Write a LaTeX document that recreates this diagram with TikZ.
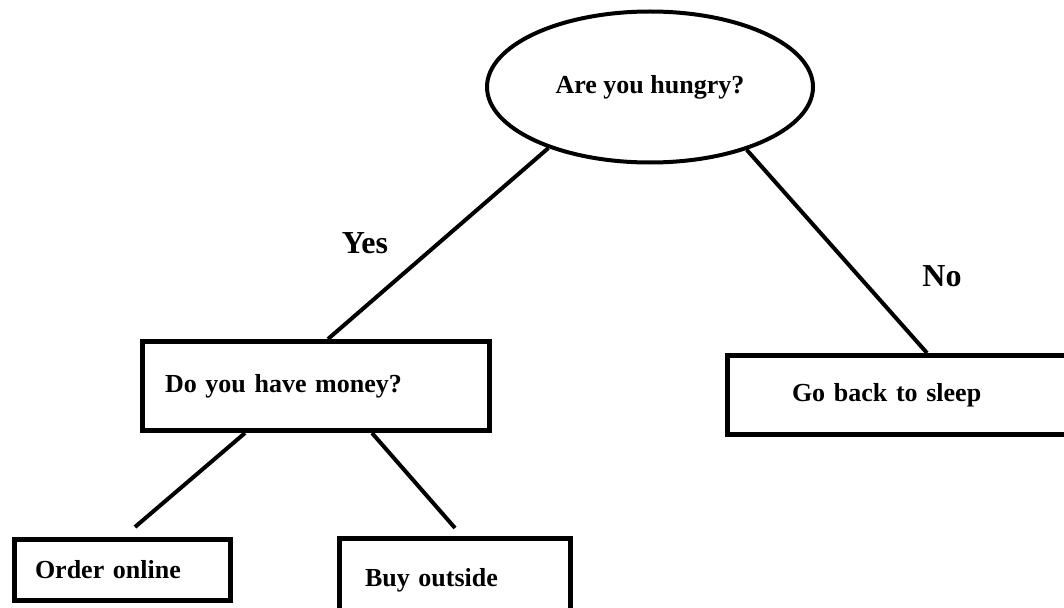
\documentclass[tikz,border=0pt]{standalone}
\usepackage{fontspec}
\setmainfont{Liberation Serif}
\usetikzlibrary{shapes.geometric}

\tikzset{
  question/.style={draw, ellipse, line width=4pt, inner sep=0pt,
    minimum width=326pt, minimum height=151pt, font=\fontsize{26}{30}\selectfont\bfseries},
  answerbox/.style={draw, rectangle, line width=5pt, align=left,
    font=\fontsize{26}{30}\selectfont\bfseries},
  branch/.style={line width=4pt},
  choice/.style={font=\fontsize{32}{36}\selectfont\bfseries}
}

\begin{document}
\begin{tikzpicture}[x=1pt, y=-1pt]
  \useasboundingbox (0,0) rectangle (1064,607);

  \node[question] (hungry) at (650, 87) {Are you hungry?};
  \node[answerbox, text width=302pt, inner xsep=22.5pt, minimum height=89pt] (money) at (316, 386) {Do you have money?};
  \node[answerbox, text width=218pt, inner xsep=64.5pt, minimum height=79pt] (sleep) at (901, 395) {Go back to sleep};
  \node[answerbox, text width=175pt, inner xsep=20.5pt, minimum height=61pt] (order) at (122.5, 570) {Order online};
  \node[answerbox, text width=180pt, inner xsep=25.5pt, minimum height=83pt] (buy) at (455, 580) {Buy outside};

  \node[choice] (yes) at (365, 243) {Yes};
  \node[choice] (no) at (942, 276) {No};

  \draw[branch] (hungry.-149) -- ([xshift=12pt]money.north);
  \draw[branch] (hungry.-33.6) -- ([xshift=26pt]sleep.north);
  \draw[branch] ([xshift=-71pt]money.south) -- ([xshift=12.5pt, yshift=10pt]order.north);
  \draw[branch] ([xshift=56pt]money.south) -- ([yshift=8pt]buy.north);
\end{tikzpicture}
\end{document}
